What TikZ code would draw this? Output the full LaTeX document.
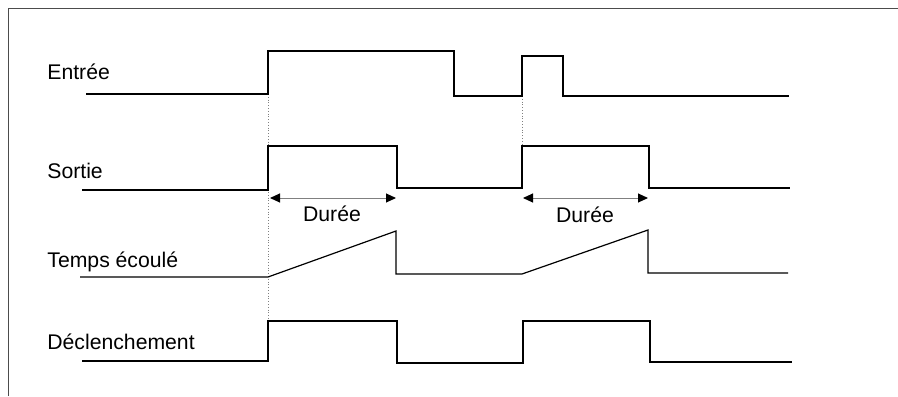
\documentclass[tikz,border=0pt]{standalone}
\usepackage{fontspec}
\setmainfont{Liberation Sans}
\usetikzlibrary{arrows.meta}

\begin{document}
\begin{tikzpicture}[x=0.5pt, y=-0.5pt, font=\fontsize{10.6pt}{13pt}\selectfont,
        signal/.style={draw, line width=0.6pt},
        siglabel/.style={anchor=base west, inner sep=0pt}]
        \useasboundingbox(0,0)rectangle(898,396);
        % frame
        \path[draw, line width=0.5pt, black!70](8,396)--(8,8)--(898,8);
        % labels
        \node[siglabel](entree)at(47,79){Entrée};
        \node[siglabel](sortie)at(47,178){Sortie};
        \node[siglabel](temps)at(47,267){Temps écoulé};
        \node[siglabel](declench)at(47,349){Déclenchement};
        % start marks
        \path[draw, densely dotted, line width=0.4pt, gray](268,94)--(268,361);
        \path[draw, densely dotted, line width=0.4pt, gray](522,96)--(522,146);
        % entree
        \path[signal](86,94)--(268,94)--(268,51)--(454,51)--(454,96)--(522,96)--(522,56)--(563,56)--(563,96)--(789,96);
        % sortie
        \path[signal](82,190)--(268,190)--(268,146)--(397,146)--(397,188)--(522,188)--(522,146)--(649,146)--(649,188)--(790,188);
        % temps ecoule
        \path[signal](80,277)--(268,277)--(396,231)--(396,274)--(522,274)--(648,230)--(648,273)--(788,273);
        % declenchement
        \path[signal](82,361)--(268,361)--(268,321)--(397,321)--(397,363)--(523,363)--(523,321)--(650,321)--(650,362)--(792,362);
        % duree
        \coordinate(d1a)at(270,198);
        \coordinate(d1b)at(396,198);
        \coordinate(d2a)at(523,198);
        \coordinate(d2b)at(648,198);
        \path[draw, line width=0.5pt, gray, {Triangle[black, length=5pt, width=4.5pt]}-{Triangle[black, length=5pt, width=4.5pt]}](d1a)to(d1b);
        \path[draw, line width=0.5pt, gray, {Triangle[black, length=5pt, width=4.5pt]}-{Triangle[black, length=5pt, width=4.5pt]}](d2a)to(d2b);
        \node[anchor=base](duree1)at(332,221){Durée};
        \node[anchor=base](duree2)at(585,222){Durée};
    \end{tikzpicture}
\end{document}
